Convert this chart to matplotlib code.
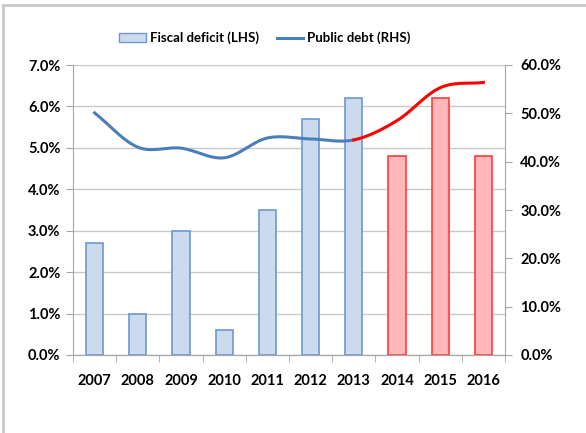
import numpy as np
import matplotlib
matplotlib.use("Agg")
import matplotlib.pyplot as plt
from matplotlib.patches import Patch
from matplotlib.lines import Line2D
from matplotlib.ticker import FuncFormatter

years = ["2007", "2008", "2009", "2010", "2011", "2012", "2013", "2014", "2015", "2016"]
fiscal_deficit = [2.7, 1.0, 3.0, 0.6, 3.5, 5.7, 6.2, 4.8, 6.2, 4.8]
public_debt = [50.1, 43.0, 42.8, 40.8, 44.9, 44.7, 44.5, 48.5, 55.3, 56.4]
n_actual = 7  # 2007-2013 actual, rest forecast

plt.rcParams['font.family'] = ['Lato', 'DejaVu Sans']
plt.rcParams['font.weight'] = 'bold'

fig = plt.figure(figsize=(5.86, 4.33), dpi=100)
ax = fig.add_axes([73/586, 1-355/433, 432/586, 290/433])
ax2 = ax.twinx()

x = np.arange(len(years))
blue_fill, blue_edge = "#cbdaec", "#6d98d0"
red_fill, red_edge = "#ffb7b9", "#ff3c3c"
fills = [blue_fill]*n_actual + [red_fill]*(len(years)-n_actual)
edges = [blue_edge]*n_actual + [red_edge]*(len(years)-n_actual)
ax.bar(x, fiscal_deficit, width=0.4, color=fills, edgecolor=edges, linewidth=1.2, zorder=3)

# smooth (Catmull-Rom) line like Excel's smoothed line
def catmull(xs, ys, steps=30):
    xs = np.asarray(xs, float); ys = np.asarray(ys, float)
    P = np.column_stack([xs, ys])
    P = np.vstack([P[0] - (P[1]-P[0]), P, P[-1] + (P[-1]-P[-2])])
    out = []
    for i in range(1, len(P)-2):
        p0, p1, p2, p3 = P[i-1], P[i], P[i+1], P[i+2]
        t = np.linspace(0, 1, steps)[:, None]
        seg = 0.5*((2*p1) + (-p0+p2)*t + (2*p0-5*p1+4*p2-p3)*t**2 + (-p0+3*p1-3*p2+p3)*t**3)
        out.append(seg if i == len(P)-3 else seg[:-1])
    return np.vstack(out)

curve = catmull(x, public_debt)
split = (n_actual-1)*29
ax2.plot(curve[:split+1, 0], curve[:split+1, 1], color="#4a7ebb", lw=2.2, zorder=4)
ax2.plot(curve[split:, 0], curve[split:, 1], color="#ff0000", lw=2.2, zorder=4)

ax.set_xlim(-0.5, len(years)-0.5)
ax.set_ylim(0, 7)
ax2.set_ylim(0, 60)
ax.set_yticks(np.arange(0, 7.01, 1))
ax2.set_yticks(np.arange(0, 60.01, 10))
ax.yaxis.set_major_formatter(FuncFormatter(lambda v, p: f"{v:.1f}%"))
ax2.yaxis.set_major_formatter(FuncFormatter(lambda v, p: f"{v:.1f}%"))
ax.set_xticks(x)
ax.set_xticklabels(years)
ax.set_xticks(np.arange(-0.5, len(years), 1), minor=True)
ax.tick_params(axis='x', which='major', length=0, pad=14, labelsize=10.5)
ax.tick_params(axis='x', which='minor', length=5, color="#a6a6a6", direction='out')
ax.tick_params(axis='y', length=5, color="#a6a6a6", labelsize=10.5, pad=4)
ax2.tick_params(axis='y', length=5, color="#a6a6a6", labelsize=10.5, pad=6)
ax.grid(axis='y', color="#c8c8c8", lw=1, zorder=0)
ax.set_axisbelow(True)
for a in (ax, ax2):
    a.spines['top'].set_visible(False)
    for s in ('left', 'right', 'bottom'):
        a.spines[s].set_color("#a6a6a6")
ax2.spines['left'].set_visible(False)
ax.spines['right'].set_visible(False)

handles = [Patch(facecolor=blue_fill, edgecolor=blue_edge, label="Fiscal deficit (LHS)"),
           Line2D([0], [0], color="#4a7ebb", lw=2.2, label="Public debt (RHS)")]
fig.legend(handles=handles, loc='center', bbox_to_anchor=(265/586, 1-38/433), ncol=2,
           frameon=False, fontsize=9.5, handlelength=2.0, handletextpad=0.3, columnspacing=1.4)

# outer frame
fig.add_artist(Line2D([3/586, 1], [1-5/433, 1-5/433], transform=fig.transFigure, color="#c8c8c8", lw=2))
fig.add_artist(Line2D([3/586, 3/586], [0, 1-5/433], transform=fig.transFigure, color="#c8c8c8", lw=2))

fig.savefig("out.png", dpi=100)
